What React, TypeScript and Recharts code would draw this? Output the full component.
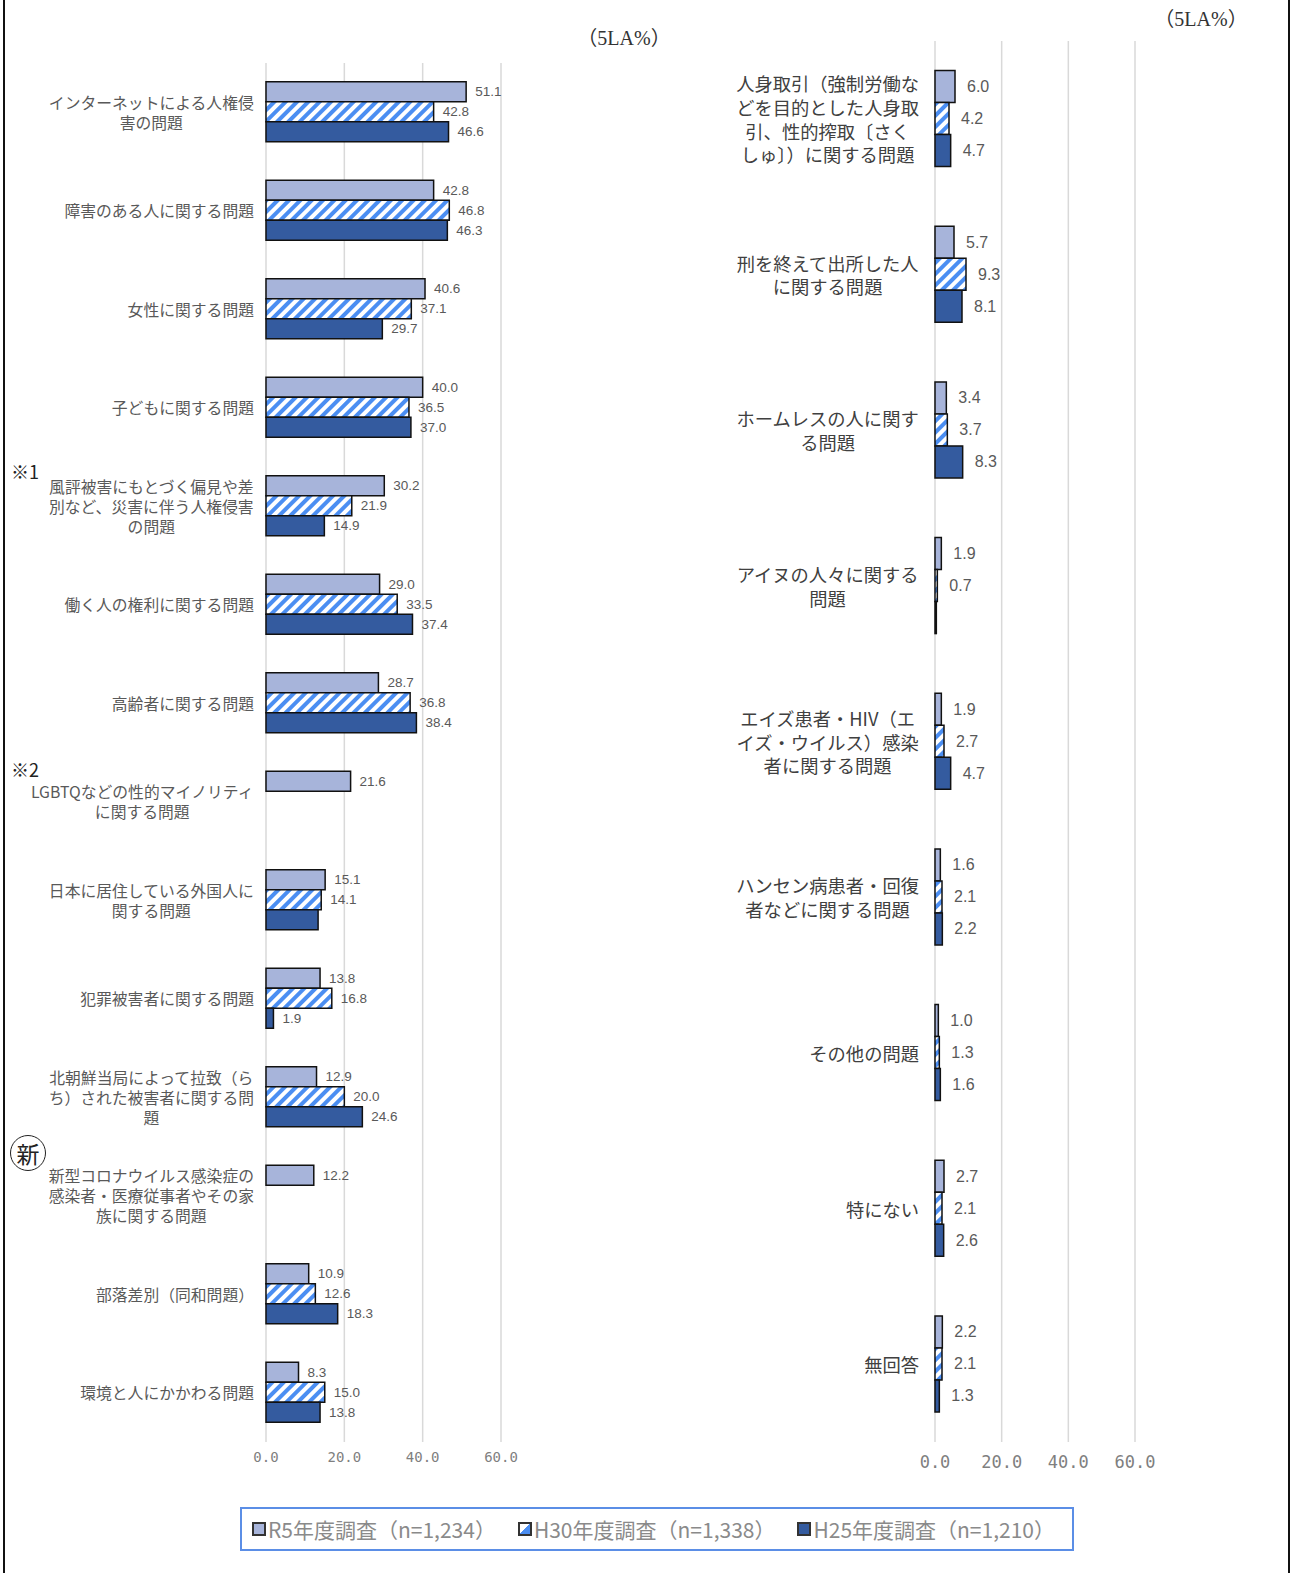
import { Bar, BarChart, CartesianGrid, LabelList, XAxis, YAxis } from "recharts";

// 左側パネル
const leftCategories = [
  "インターネットによる人権侵\n害の問題",
  "障害のある人に関する問題",
  "女性に関する問題",
  "子どもに関する問題",
  "風評被害にもとづく偏見や差\n別など、災害に伴う人権侵害\nの問題",
  "働く人の権利に関する問題",
  "高齢者に関する問題",
  "LGBTQなどの性的マイノリティ\nに関する問題",
  "日本に居住している外国人に\n関する問題",
  "犯罪被害者に関する問題",
  "北朝鮮当局によって拉致（ら\nち）された被害者に関する問\n題",
  "新型コロナウイルス感染症の\n感染者・医療従事者やその家\n族に関する問題",
  "部落差別（同和問題）",
  "環境と人にかかわる問題",
];
const leftR5 = [51.1, 42.8, 40.6, 40.0, 30.2, 29.0, 28.7, 21.6, 15.1, 13.8, 12.9, 12.2, 10.9, 8.3];
const leftH30 = [42.8, 46.8, 37.1, 36.5, 21.9, 33.5, 36.8, null, 14.1, 16.8, 20.0, null, 12.6, 15.0];
const leftH25 = [46.6, 46.3, 29.7, 37.0, 14.9, 37.4, 38.4, null, 13.3, 1.9, 24.6, null, 18.3, 13.8];
const leftH25NoLabel = [8];

// 右側パネル
const rightCategories = [
  "人身取引（強制労働な\nどを目的とした人身取\n引、性的搾取〔さく\nしゅ〕）に関する問題",
  "刑を終えて出所した人\nに関する問題",
  "ホームレスの人に関す\nる問題",
  "アイヌの人々に関する\n問題",
  "エイズ患者・HIV（エ\nイズ・ウイルス）感染\n者に関する問題",
  "ハンセン病患者・回復\n者などに関する問題",
  "その他の問題",
  "特にない",
  "無回答",
];
const rightR5 = [6.0, 5.7, 3.4, 1.9, 1.9, 1.6, 1.0, 2.7, 2.2];
const rightH30 = [4.2, 9.3, 3.7, 0.7, 2.7, 2.1, 1.3, 2.1, 2.1];
const rightH25 = [4.7, 8.1, 8.3, 0.4, 4.7, 2.2, 1.6, 2.6, 1.3];
const rightH25NoLabel = [3];

const axisTicks = [0, 20, 40, 60];

const series = [
  { key: "r5", name: "R5年度調査（n=1,234）" },
  { key: "h30", name: "H30年度調査（n=1,338）" },
  { key: "h25", name: "H25年度調査（n=1,210）" },
];

const R5_FILL = "#a7b4da";
const H25_FILL = "#345b9f";
const HATCH_BLUE = "#4b8ef2";
const JP = "'Noto Sans CJK JP', 'Noto Sans', sans-serif";

const buildRows = (cats: string[], r5: (number | null)[], h30: (number | null)[], h25: (number | null)[], noLabel: number[]) =>
  cats.map((name, i) => ({
    name,
    r5: r5[i],
    h30: h30[i],
    h25: h25[i],
    h25Label: noLabel.includes(i) ? null : h25[i],
  }));

const leftRows = buildRows(leftCategories, leftR5, leftH30, leftH25, leftH25NoLabel);
const rightRows = buildRows(rightCategories, rightR5, rightH30, rightH25, rightH25NoLabel);

let ctx: CanvasRenderingContext2D | null = null;
const measure = (s: string, size: number) => {
  if (!ctx) ctx = document.createElement("canvas").getContext("2d");
  if (!ctx) return s.length * size;
  ctx.font = `${size}px ${JP}`;
  return ctx.measureText(s).width;
};

const CategoryTick = ({ y, payload, right, fontSize, lineHeight, color }: any) => {
  const lines = String(payload.value).split("\n");
  const maxW = Math.max(...lines.map((l) => measure(l, fontSize)));
  const cx = right - maxW / 2;
  const top = y - ((lines.length - 1) * lineHeight) / 2;
  return (
    <g>
      {lines.map((l, i) => (
        <text
          key={i}
          x={cx}
          y={top + i * lineHeight}
          textAnchor="middle"
          dominantBaseline="central"
          fontSize={fontSize}
          fontFamily={JP}
          fill={color}
        >
          {l}
        </text>
      ))}
    </g>
  );
};

const valueLabel = (offset: number, fontSize: number) => (props: any) => {
  const { x, y, width, height, value } = props;
  if (value == null) return null;
  return (
    <text
      x={Number(x) + Number(width) + offset}
      y={Number(y) + Number(height) / 2}
      dominantBaseline="central"
      fontSize={fontSize}
      fontFamily="'Liberation Sans', 'Noto Sans', sans-serif"
      fill="#595959"
    >
      {Number(value).toFixed(1)}
    </text>
  );
};

const Hatch = ({ id }: { id: string }) => (
  <defs>
    <pattern id={id} width="8" height="8" patternUnits="userSpaceOnUse" patternTransform="rotate(45)">
      <rect width="8" height="8" fill="#fff" />
      <rect width="4" height="8" fill={HATCH_BLUE} />
    </pattern>
  </defs>
);

const Panel = ({
  rows,
  width,
  height,
  margin,
  yWidth,
  labelRight,
  catFont,
  catLine,
  catColor,
  valFont,
  valOffset,
  tickFont,
  tickMargin,
  hatchId,
}: any) => (
  <BarChart
    width={width}
    height={height}
    data={rows}
    layout="vertical"
    margin={margin}
    barCategoryGap="19%"
    barGap={0}
  >
    <Hatch id={hatchId} />
    <CartesianGrid horizontal={false} stroke="#d9d9d9" strokeWidth={1.5} />
    <XAxis
      type="number"
      domain={[0, 60]}
      ticks={axisTicks}
      tickFormatter={(v: number) => v.toFixed(1)}
      axisLine={false}
      tickLine={false}
      tickMargin={tickMargin}
      height={30}
      tick={{ fontSize: tickFont, fill: "#7f7f7f", fontFamily: "'DejaVu Sans Mono', monospace" }}
    />
    <YAxis
      type="category"
      dataKey="name"
      width={yWidth}
      axisLine={false}
      tickLine={false}
      interval={0}
      tick={(p: any) => (
        <CategoryTick {...p} right={labelRight} fontSize={catFont} lineHeight={catLine} color={catColor} />
      )}
    />
    <Bar dataKey="r5" fill={R5_FILL} stroke="#111" strokeWidth={1.5} isAnimationActive={false}>
      <LabelList dataKey="r5" content={valueLabel(valOffset, valFont)} />
    </Bar>
    <Bar dataKey="h30" fill={`url(#${hatchId})`} stroke="#111" strokeWidth={1.5} isAnimationActive={false}>
      <LabelList dataKey="h30" content={valueLabel(valOffset, valFont)} />
    </Bar>
    <Bar dataKey="h25" fill={H25_FILL} stroke="#111" strokeWidth={1.5} isAnimationActive={false}>
      <LabelList dataKey="h25Label" content={valueLabel(valOffset, valFont)} />
    </Bar>
  </BarChart>
);

const legendIcon = (key: string) => {
  const bg =
    key === "r5"
      ? R5_FILL
      : key === "h30"
      ? `linear-gradient(to bottom right, #fff 50%, ${HATCH_BLUE} 50%)`
      : H25_FILL;
  return (
    <span
      style={{
        display: "inline-block",
        width: 10,
        height: 10,
        border: "2px solid #333",
        background: bg,
        marginRight: 2,
      }}
    />
  );
};

export default function App() {
  return (
    <div
      style={{
        position: "absolute",
        left: 0,
        top: 0,
        width: 1293,
        height: 1573,
        background: "#fff",
        overflow: "hidden",
      }}
    >
      {/* 外枠 */}
      <div style={{ position: "absolute", left: 3, top: 0, width: 2, height: 1573, background: "#111" }} />
      <div style={{ position: "absolute", left: 1288, top: 0, width: 2, height: 1573, background: "#111" }} />

      <div style={{ position: "absolute", left: 0, top: 0 }}>
        <Panel
          rows={leftRows}
          width={520}
          height={1480}
          margin={{ top: 63, right: 19, left: 11, bottom: 8 }}
          yWidth={255}
          labelRight={254}
          catFont={15.8}
          catLine={20}
          catColor="#595959"
          valFont={13.5}
          valOffset={9}
          tickFont={14}
          tickMargin={4}
          hatchId="hatchL"
        />
      </div>

      <div style={{ position: "absolute", left: 720, top: 0 }}>
        <Panel
          rows={rightRows}
          width={440}
          height={1480}
          margin={{ top: 41, right: 25, left: 3, bottom: 8 }}
          yWidth={212}
          labelRight={199}
          catFont={18.3}
          catLine={23.7}
          catColor="#404040"
          valFont={16}
          valOffset={12}
          tickFont={17}
          tickMargin={8}
          hatchId="hatchR"
        />
      </div>

      {/* 単位 */}
      <div
        style={{
          position: "absolute",
          left: 574,
          top: 22,
          width: 100,
          textAlign: "center",
          fontSize: 20,
          fontFamily: "'Liberation Serif', 'Noto Sans CJK JP', serif",
          color: "#333",
        }}
      >
        （5LA%）
      </div>
      <div
        style={{
          position: "absolute",
          left: 1151,
          top: 3,
          width: 100,
          textAlign: "center",
          fontSize: 20,
          fontFamily: "'Liberation Serif', 'Noto Sans CJK JP', serif",
          color: "#333",
        }}
      >
        （5LA%）
      </div>

      {/* 注記 */}
      <div style={{ position: "absolute", left: 11, top: 458, fontSize: 18, fontFamily: JP, color: "#222" }}>※1</div>
      <div style={{ position: "absolute", left: 11, top: 756, fontSize: 18, fontFamily: JP, color: "#222" }}>※2</div>
      <div
        style={{
          position: "absolute",
          left: 10,
          top: 1135,
          width: 34,
          height: 34,
          borderRadius: "50%",
          border: "1.5px solid #222",
          display: "flex",
          alignItems: "center",
          justifyContent: "center",
          fontSize: 23,
          fontFamily: "'Noto Sans CJK JP', serif",
          color: "#222",
        }}
      >
        新
      </div>

      {/* 凡例 */}
      <div
        style={{
          position: "absolute",
          left: 240,
          top: 1507,
          width: 834,
          height: 44,
          boxSizing: "border-box",
          border: "2px solid #5b8ee6",
          display: "flex",
          alignItems: "center",
          paddingLeft: 10,
          fontFamily: JP,
          fontSize: 21,
          color: "#8a8a8a",
          whiteSpace: "nowrap",
        }}
      >
        {series.map((s) => (
          <span key={s.key} style={{ display: "inline-flex", alignItems: "center", marginRight: 22 }}>
            {legendIcon(s.key)}
            {s.name}
          </span>
        ))}
      </div>
    </div>
  );
}
